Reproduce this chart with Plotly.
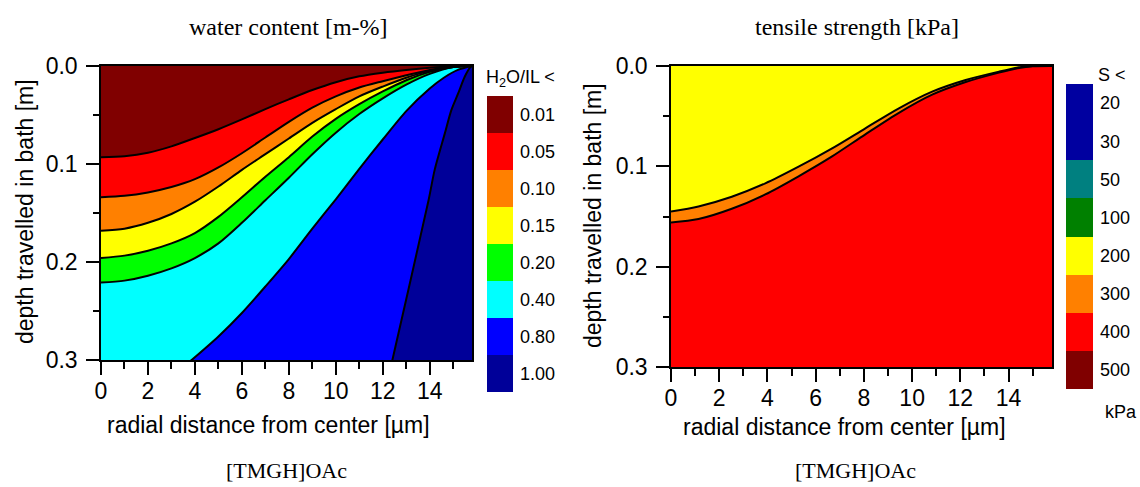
import plotly.graph_objects as go

# ---------------- data ----------------
X_MAX = 15.8
DEPTH_MAX = 0.3

# left panel: water content contour boundaries (x in µm, depth in m)
wc_levels = ["0.01", "0.05", "0.10", "0.15", "0.20", "0.40", "0.80", "1.00"]
wc_colors = ["#800000", "#FF0000", "#FF8000", "#FFFF00", "#00FF00", "#00FFFF", "#0000FF", "#000099"]

grid_x = [0, 1, 2, 3, 4, 5, 6, 7, 8, 9, 10, 11, 12, 13, 14, 15, 15.8]
b1_d = [0.093, 0.092, 0.0885, 0.082, 0.0735, 0.0645, 0.0545, 0.044, 0.034, 0.0245, 0.0165, 0.0105, 0.0068, 0.004, 0.0018, 0.0003, 0.0]
b2_d = [0.134, 0.1325, 0.129, 0.1235, 0.1155, 0.1035, 0.089, 0.073, 0.057, 0.0425, 0.031, 0.022, 0.0155, 0.0095, 0.004, 0.0005, 0.0]
b3_d = [0.168, 0.166, 0.160, 0.151, 0.1385, 0.123, 0.106, 0.090, 0.074, 0.058, 0.044, 0.031, 0.021, 0.012, 0.005, 0.001, 0.0]
b4_d = [0.196, 0.1935, 0.1885, 0.181, 0.1705, 0.154, 0.134, 0.113, 0.093, 0.072, 0.054, 0.039, 0.026, 0.0145, 0.006, 0.001, 0.0]
b5_d = [0.221, 0.219, 0.214, 0.2065, 0.196, 0.181, 0.160, 0.137, 0.114, 0.090, 0.068, 0.049, 0.033, 0.019, 0.008, 0.001, 0.0]

b6_x = [0, 2.0, 3.86, 5, 6, 7, 8, 9, 10, 11, 12, 13, 14, 14.6, 15.2, 15.8]
b6_d = [0.34, 0.337, 0.3, 0.276, 0.252, 0.225, 0.197, 0.166, 0.136, 0.105, 0.075, 0.046, 0.023, 0.012, 0.004, 0.0]

b7_x = [0, 12.1, 12.41, 13.95, 14.21, 14.64, 14.92, 15.21, 15.49, 15.72, 15.8]
b7_d = [0.34, 0.333, 0.3, 0.137, 0.106, 0.069, 0.045, 0.028, 0.011, 0.0014, 0.0]

# right panel: tensile strength contour boundaries
ts_levels = ["20", "30", "50", "100", "200", "300", "400", "500"]
ts_colors = ["#0000A0", "#0000A0", "#008080", "#008000", "#FFFF00", "#FF8000", "#FF0000", "#800000"]
ts_fills = ["#FFFF00", "#FF8000", "#FF0000"]

c_x = [0, 1.14, 2.52, 3.91, 5.29, 6.68, 8.06, 9.45, 10.83, 12.22, 13.6, 14.43, 15.0, 15.8]
c1_d = [0.145, 0.140, 0.1303, 0.117, 0.1004, 0.0821, 0.0621, 0.0422, 0.0256, 0.014, 0.0056, 0.0013, 0.0, 0.0]
c2_d = [0.156, 0.1525, 0.1423, 0.128, 0.1099, 0.0901, 0.0681, 0.0467, 0.0286, 0.016, 0.0066, 0.002, 0.0003, 0.0]

# ---------------- figure ----------------
W, H = 1140, 487
def px(v): return v / W
def py(v): return 1 - v / H

fig = go.Figure()

SANS = "Liberation Sans, Arial, sans-serif"
SERIF = "Liberation Serif, Times New Roman, serif"
SMOOTH = 0.8

def add_panel(boundaries, fills, xa, ya):
    fig.add_trace(go.Scatter(x=[0, X_MAX], y=[-0.01, -0.01], mode="lines", line=dict(width=0),
                             xaxis=xa, yaxis=ya, showlegend=False, hoverinfo="skip"))
    for (bx, bd), col in zip(boundaries, fills[:-1]):
        fig.add_trace(go.Scatter(x=bx, y=bd, mode="lines",
                                 line=dict(width=0, shape="spline", smoothing=SMOOTH),
                                 fill="tonexty", fillcolor=col, xaxis=xa, yaxis=ya,
                                 showlegend=False, hoverinfo="skip"))
    fig.add_trace(go.Scatter(x=[0, X_MAX], y=[DEPTH_MAX + 0.05, DEPTH_MAX + 0.05], mode="lines",
                             line=dict(width=0), fill="tonexty", fillcolor=fills[-1],
                             xaxis=xa, yaxis=ya, showlegend=False, hoverinfo="skip"))

def add_lines(boundaries, xa, ya):
    for bx, bd in boundaries:
        fig.add_trace(go.Scatter(x=bx, y=bd, mode="lines",
                                 line=dict(width=2, color="black", shape="spline", smoothing=SMOOTH),
                                 xaxis=xa, yaxis=ya, showlegend=False, hoverinfo="skip"))

left_b = [(grid_x, b1_d), (grid_x, b2_d), (grid_x, b3_d), (grid_x, b4_d), (grid_x, b5_d),
          (b6_x, b6_d), (b7_x, b7_d)]
right_b = [(c_x, c1_d), (c_x, c2_d)]
add_panel(left_b, wc_colors, "x", "y")
add_panel(right_b, ts_fills, "x2", "y2")
add_lines(left_b, "x", "y")
add_lines(right_b, "x2", "y2")

# colour bars as heatmaps
def cscale(cols):
    n = len(cols)
    cs = []
    for i, c in enumerate(cols):
        cs.append([i / n, c])
        cs.append([(i + 1) / n, c])
    return cs

fig.add_trace(go.Heatmap(z=[[i] for i in range(len(wc_levels))], x=[0], y=list(range(len(wc_levels))),
                         colorscale=cscale(wc_colors), zmin=-0.5, zmax=len(wc_levels) - 0.5,
                         showscale=False, xaxis="x3", yaxis="y3", hoverinfo="skip"))
fig.add_trace(go.Heatmap(z=[[i] for i in range(len(ts_levels))], x=[0], y=list(range(len(ts_levels))),
                         colorscale=cscale(ts_colors), zmin=-0.5, zmax=len(ts_levels) - 0.5,
                         showscale=False, xaxis="x4", yaxis="y4", hoverinfo="skip"))

def xax(dom, anchor):
    return dict(domain=dom, range=[0, X_MAX], anchor=anchor, dtick=2, tick0=0, automargin=False,
                ticks="outside", ticklen=13, tickwidth=1.5, tickcolor="black",
                minor=dict(dtick=1, ticklen=7, ticks="outside", tickwidth=1.5, tickcolor="black"),
                showline=True, linecolor="black", linewidth=1.5, mirror=True,
                showgrid=False, zeroline=False, ticklabelstandoff=-3,
                tickfont=dict(family=SANS, size=23, color="black"))

def yax(dom, anchor):
    return dict(domain=dom, range=[DEPTH_MAX, 0], anchor=anchor, dtick=0.1, tick0=0, tickformat=".1f",
                automargin=False, ticks="outside", ticklen=13, tickwidth=1.5, tickcolor="black",
                minor=dict(dtick=0.05, ticklen=6, ticks="outside", tickwidth=1.5, tickcolor="black"),
                showline=True, linecolor="black", linewidth=1.5, mirror=True,
                showgrid=False, zeroline=False, ticklabelstandoff=4,
                tickfont=dict(family=SANS, size=23, color="black"))

def cbx(dom, anchor):
    return dict(domain=dom, range=[-0.5, 0.5], anchor=anchor, visible=False, fixedrange=True,
                automargin=False)

def cby(dom, anchor, labels):
    return dict(domain=dom, range=[len(labels) - 0.5, -0.5], anchor=anchor, side="right",
                tickvals=list(range(len(labels))), ticktext=labels, ticks="", showline=False,
                showgrid=False, zeroline=False, ticklabelstandoff=6, automargin=False,
                tickfont=dict(family=SANS, size=18, color="black"))

fig.update_layout(
    template="none",
    width=W, height=H, margin=dict(l=0, r=0, t=0, b=0, pad=0),
    paper_bgcolor="white", plot_bgcolor="white", showlegend=False,
    xaxis=xax([px(101), px(472)], "y"),
    yaxis=yax([py(360), py(66)], "x"),
    xaxis2=xax([px(671), px(1052)], "y2"),
    yaxis2=yax([py(367), py(66)], "x2"),
    xaxis3=cbx([px(487), px(513)], "y3"),
    yaxis3=cby([py(392), py(96)], "x3", wc_levels),
    xaxis4=cbx([px(1066), px(1093)], "y4"),
    yaxis4=cby([py(389), py(84)], "x4", ts_levels),
)

def ann(text, x, y, size, family, xanchor="center", angle=0):
    fig.add_annotation(text=text, x=x, y=y, xref="paper", yref="paper", showarrow=False,
                       xanchor=xanchor, yanchor="middle", textangle=angle,
                       font=dict(family=family, size=size, color="black"))

ann("water content [m-%]", px(288), py(27), 24, SERIF)
ann("tensile strength [kPa]", px(857), py(27), 24, SERIF)
ann("[TMGH]OAc", px(286), py(470), 22, SERIF)
ann("[TMGH]OAc", px(855), py(470), 22, SERIF)
ann("depth travelled in bath [m]", px(25), py(212), 23, SANS, angle=-90)
ann("depth travelled in bath [m]", px(593), py(216), 23, SANS, angle=-90)
ann("radial distance from center [µm]", px(268), py(425), 23, SANS)
ann("radial distance from center [µm]", px(844), py(427), 23, SANS)
ann("H<sub>2</sub>O/IL &lt;", px(484), py(78), 18, SANS, xanchor="left")
ann("S &lt;", px(1096), py(75), 18, SANS, xanchor="left")
ann("kPa", px(1103), py(412), 18, SANS, xanchor="left")

fig.write_html("out.html")
